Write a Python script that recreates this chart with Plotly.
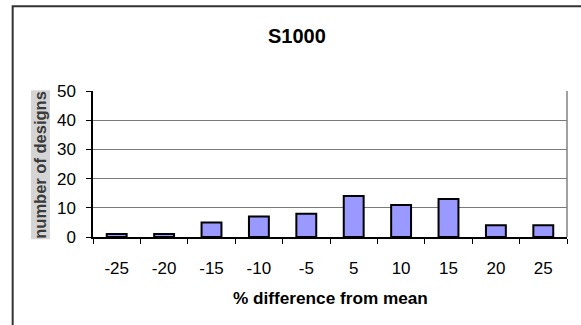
import plotly.graph_objects as go

# Histogram of designs by % difference from the mean
categories = ["-25", "-20", "-15", "-10", "-5", "5", "10", "15", "20", "25"]
counts = [1, 1, 5, 7, 8, 14, 11, 13, 4, 4]
y_ticks = [0, 10, 20, 30, 40, 50]

W, H = 581, 325
L, R, T, B = 92.5, 13.5, 91, 88.3
pw, ph = W - L - R, H - T - B

FONT = "Liberation Sans, Arial, sans-serif"

fig = go.Figure(
    go.Bar(
        x=categories,
        y=counts,
        marker=dict(color="#9999FF", line=dict(color="#000000", width=2)),
        width=0.42,
    )
)

fig.update_layout(
    width=W,
    height=H,
    margin=dict(l=L, r=R, t=T, b=B, autoexpand=False),
    paper_bgcolor="white",
    plot_bgcolor="white",
    showlegend=False,
    font=dict(family=FONT, color="#000000"),
    xaxis=dict(
        type="category",
        tickson="boundaries",
        ticks="outside",
        ticklen=5,
        tickcolor="#000000",
        tickwidth=1.2,
        showline=True,
        linecolor="#000000",
        linewidth=1.5,
        showgrid=False,
        tickfont=dict(size=17, family=FONT),
        ticklabelstandoff=15,
        fixedrange=True,
    ),
    yaxis=dict(
        range=[0, 50],
        tickvals=y_ticks,
        ticks="outside",
        ticklen=5,
        tickcolor="#000000",
        tickwidth=1.2,
        showline=True,
        linecolor="#000000",
        linewidth=1.5,
        showgrid=True,
        gridcolor="#7a7a7a",
        gridwidth=1.4,
        zeroline=False,
        tickfont=dict(size=17, family=FONT),
        ticklabelstandoff=7,
        fixedrange=True,
    ),
)

def px_x(x):
    return (x - L) / pw

def px_y(y):
    return (H - B - y) / ph

shapes = [
    # right edge of the plot area
    dict(type="line", xref="paper", yref="paper", x0=1, x1=1, y0=0, y1=1,
         line=dict(color="#808080", width=1.5)),
    # chart frame (runs past the right and bottom edges)
    dict(type="rect", xref="paper", yref="paper",
         x0=px_x(12), x1=px_x(W + 20), y0=px_y(H + 20), y1=px_y(6.5),
         line=dict(color="#333333", width=2), layer="above"),
]
fig.update_layout(shapes=shapes)

annotations = [
    dict(text="<b>S1000</b>", xref="paper", yref="paper",
         x=px_x(296.5), y=px_y(36.5), showarrow=False,
         xanchor="center", yanchor="middle",
         font=dict(size=20, family=FONT, color="#000000")),
    dict(text="<b>% difference from mean</b>", xref="paper", yref="paper",
         x=px_x(330), y=px_y(297.5), showarrow=False,
         xanchor="center", yanchor="middle",
         font=dict(size=17.2, family=FONT, color="#000000")),
    dict(text="<b>number of designs</b>", xref="paper", yref="paper",
         x=px_x(40), y=px_y(165), showarrow=False, textangle=-90,
         xanchor="center", yanchor="middle",
         bgcolor="#d4d4d4", borderpad=0,
         font=dict(size=16.5, family=FONT, color="#3a3a3a")),
]
fig.update_layout(annotations=annotations)

fig.write_html("out.html")
